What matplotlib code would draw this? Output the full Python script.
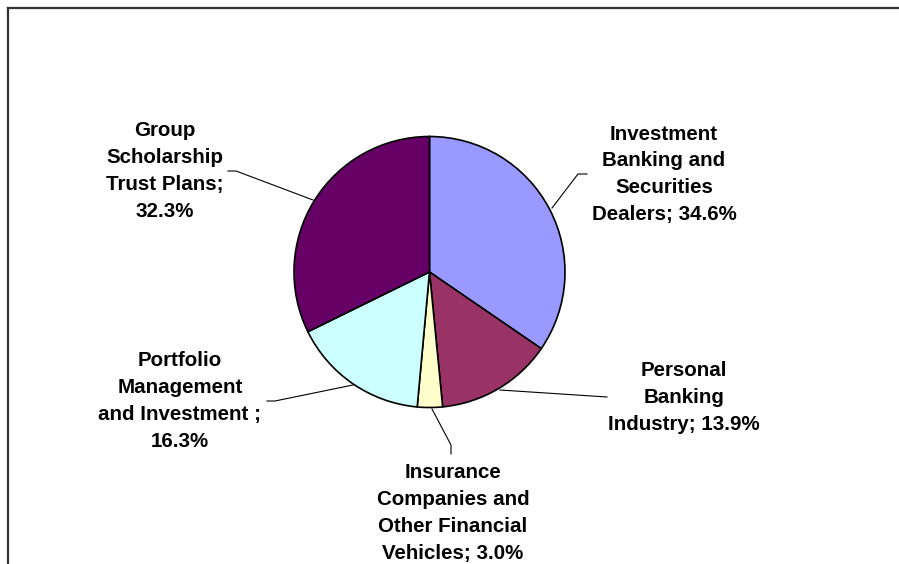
import matplotlib
matplotlib.use("Agg")
import matplotlib.pyplot as plt
from matplotlib.lines import Line2D

# ---- data ----
categories = [
    "Investment\nBanking and\nSecurities\nDealers",
    "Personal\nBanking\nIndustry",
    "Insurance\nCompanies and\nOther Financial\nVehicles",
    "Portfolio\nManagement\nand Investment ",
    "Group\nScholarship\nTrust Plans",
]
values = [34.6, 13.9, 3.0, 16.3, 32.3]
colors = ["#9999FF", "#993366", "#FFFFCC", "#CCFFFF", "#660066"]

W, H = 899, 564
fig = plt.figure(figsize=(W / 100, H / 100), dpi=100)
ax = fig.add_axes([0, 0, 1, 1])
ax.set_xlim(0, W)
ax.set_ylim(0, H)
ax.set_aspect("equal")
ax.axis("off")

def P(x, y):
    return (x, H - y)

cx, cy = P(429.5, 272)
ax.pie(values, colors=colors, startangle=90, counterclock=False,
       center=(cx, cy), radius=135.5,
       wedgeprops=dict(edgecolor="black", linewidth=1.2))
ax.set_xlim(0, W)
ax.set_ylim(0, H)

# label text: name; percent
labels = []
for name, v in zip(categories, values):
    if name.endswith("Plans") or name.endswith("Investment "):
        labels.append(name + ";\n" + f"{v:.1f}%")
    else:
        labels.append(name + f"; {v:.1f}%")

# label positions (center x, top of first line y) in pixels
label_pos = [(664, 124.5), (684, 361.5), (453, 463.5), (180, 351.5), (165, 121.5)]
leaders = [
    [(552, 208), (578, 174), (587, 174)],
    [(500, 390), (607, 397)],
    [(432, 409), (451, 445), (451, 454)],
    [(353, 385), (275, 401), (267, 401)],
    [(313, 200), (236, 171), (228, 171)],
]

for lab, (lx, ly), pts in zip(labels, label_pos, leaders):
    x, y = P(lx, ly)
    ax.text(x, y, lab, ha="center", va="top", multialignment="center",
            fontsize=14.8, fontweight="bold", family="Liberation Sans",
            linespacing=1.52, color="black")
    xs = [p[0] for p in pts]
    ys = [H - p[1] for p in pts]
    ax.plot(xs, ys, color="black", linewidth=0.8)

# chart-area frame (top and left edges visible)
fx = 8 / W
fy = 1 - 8 / H
fig.add_artist(Line2D([fx, 1.0], [fy, fy], color="#333333", linewidth=1.6,
                      transform=fig.transFigure))
fig.add_artist(Line2D([fx, fx], [fy, 0.0], color="#333333", linewidth=1.6,
                      transform=fig.transFigure))

fig.savefig("out.png", dpi=100, facecolor="white")
